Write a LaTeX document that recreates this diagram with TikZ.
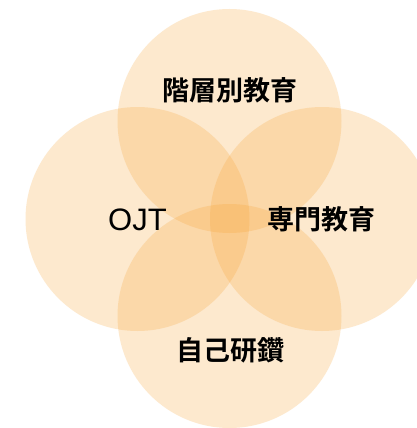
\documentclass[tikz,border=0pt]{standalone}
\usepackage{fontspec}
\newfontfamily\jpb{Noto Sans CJK JP Bold}
\newfontfamily\latn{Liberation Sans}
\definecolor{petal}{HTML}{F8A435}
\begin{document}
\begin{tikzpicture}[x=1pt,y=-1pt,
  petalc/.style={fill=petal,fill opacity=0.24,draw=none},
  jplabel/.style={font=\jpb\fontsize{27}{27}\selectfont,inner sep=0pt,anchor=base,text=black},
  latlabel/.style={font=\latn\fontsize{31}{31}\selectfont,inner sep=0pt,anchor=base,text=black}]
\useasboundingbox (0,0) rectangle (417,428);
\clip (0,0) rectangle (417,428);
\fill[white] (0,0) rectangle (417,428);
\coordinate (ct) at (229.5,121);
\coordinate (cl) at (137.5,219);
\coordinate (cr) at (322,219);
\coordinate (cb) at (229.5,316);
\fill[petalc] (ct) circle[radius=112];
\fill[petalc] (cl) circle[radius=112];
\fill[petalc] (cr) circle[radius=112];
\fill[petalc] (cb) circle[radius=112];
\node[jplabel] (t) at (230,100.3) {階層別教育};
\node[jplabel] (r) at (321.5,229.3) {専門教育};
\node[jplabel] (b) at (230,360.8) {自己研鑽};
\node[latlabel] (l) at (137.5,230.3) {OJT};
\end{tikzpicture}
\end{document}
